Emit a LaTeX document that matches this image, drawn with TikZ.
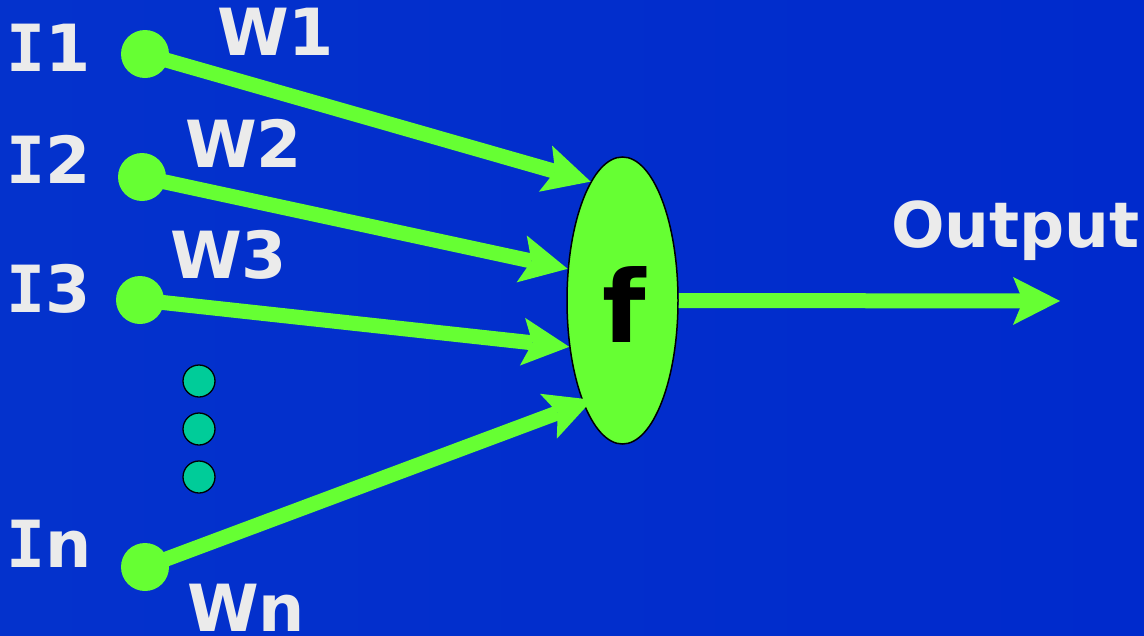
\documentclass[tikz,border=0pt]{standalone}
\usepackage{fontspec}
\setmainfont{DejaVu Sans}
\newfontfamily\slabI{DejaVu Sans Mono}
\usetikzlibrary{arrows.meta,shapes.geometric}
\definecolor{bgblue}{RGB}{0,42,204}
\definecolor{bgblueleft}{RGB}{4,50,204}
\definecolor{neongreen}{RGB}{102,255,51}
\definecolor{dotteal}{RGB}{0,204,153}
\definecolor{labelgray}{RGB}{235,235,235}
% capital I with cross-strokes
\newcommand{\capI}{{\slabI\bfseries I}}

\begin{document}
\begin{tikzpicture}[x=1pt,y=-1pt,
  lbl/.style={text=labelgray,font=\fontsize{65}{65}\selectfont\bfseries,inner sep=0pt,anchor=base west},
  inputdot/.style={circle,fill=neongreen,minimum size=48pt,inner sep=0pt},
  spacer/.style={circle,fill=dotteal,draw=black,line width=1.3pt,minimum size=32pt,inner sep=0pt},
  link/.style={neongreen,line width=15pt,-{Stealth[length=47pt,width=48pt,inset=10pt,line width=0pt]}},
  neuron/.style={ellipse,fill=neongreen,draw=black,line width=1.5pt,minimum width=111pt,minimum height=287pt,inner sep=0pt}
]
% background
\useasboundingbox (0,0) rectangle (1144,635);
\shade[left color=bgblueleft,right color=bgblue] (0,0) rectangle (1144,635);

% summing unit
\node[neuron] (f) at (622.5,300.5) {};
\node[font=\fontsize{100}{100}\selectfont\bfseries,text=black,inner sep=0pt,anchor=base] (fsym) at (624,342) {f};

% inputs
\node[inputdot] (i1) at (145,54) {};
\node[inputdot] (i2) at (142,177) {};
\node[inputdot] (i3) at (140,300) {};
\node[inputdot] (in) at (145,567) {};

% weighted connections
\draw[link] (i1.center) -- (f.105.7);
\draw[link] (i2.center) -- (f.150);
\draw[link] (i3.center) -- (f.221.6);
\draw[link,shorten >=-10pt] (in.center) -- (f.249);

% output
\coordinate (out) at (1060,301);
\draw[link] (f.east) -- (out);

% ellipsis dots
\node[spacer] (d1) at (199,381) {};
\node[spacer] (d2) at (199,429) {};
\node[spacer] (d3) at (199,477) {};

% labels
\node[lbl] (li1) at (6,71) {\capI1};
\node[lbl] (li2) at (6,183) {\capI2};
\node[lbl] (li3) at (6,312) {\capI3};
\node[lbl] (lin) at (6,567) {\capI n};
\node[lbl] (lw1) at (217,55) {W1};
\node[lbl] (lw2) at (185,167) {W2};
\node[lbl] (lw3) at (170,278) {W3};
\node[lbl] (lwn) at (187,631) {Wn};
\node[lbl,font=\fontsize{63}{63}\selectfont\bfseries] (lout) at (891,247) {Output};
\end{tikzpicture}
\end{document}
